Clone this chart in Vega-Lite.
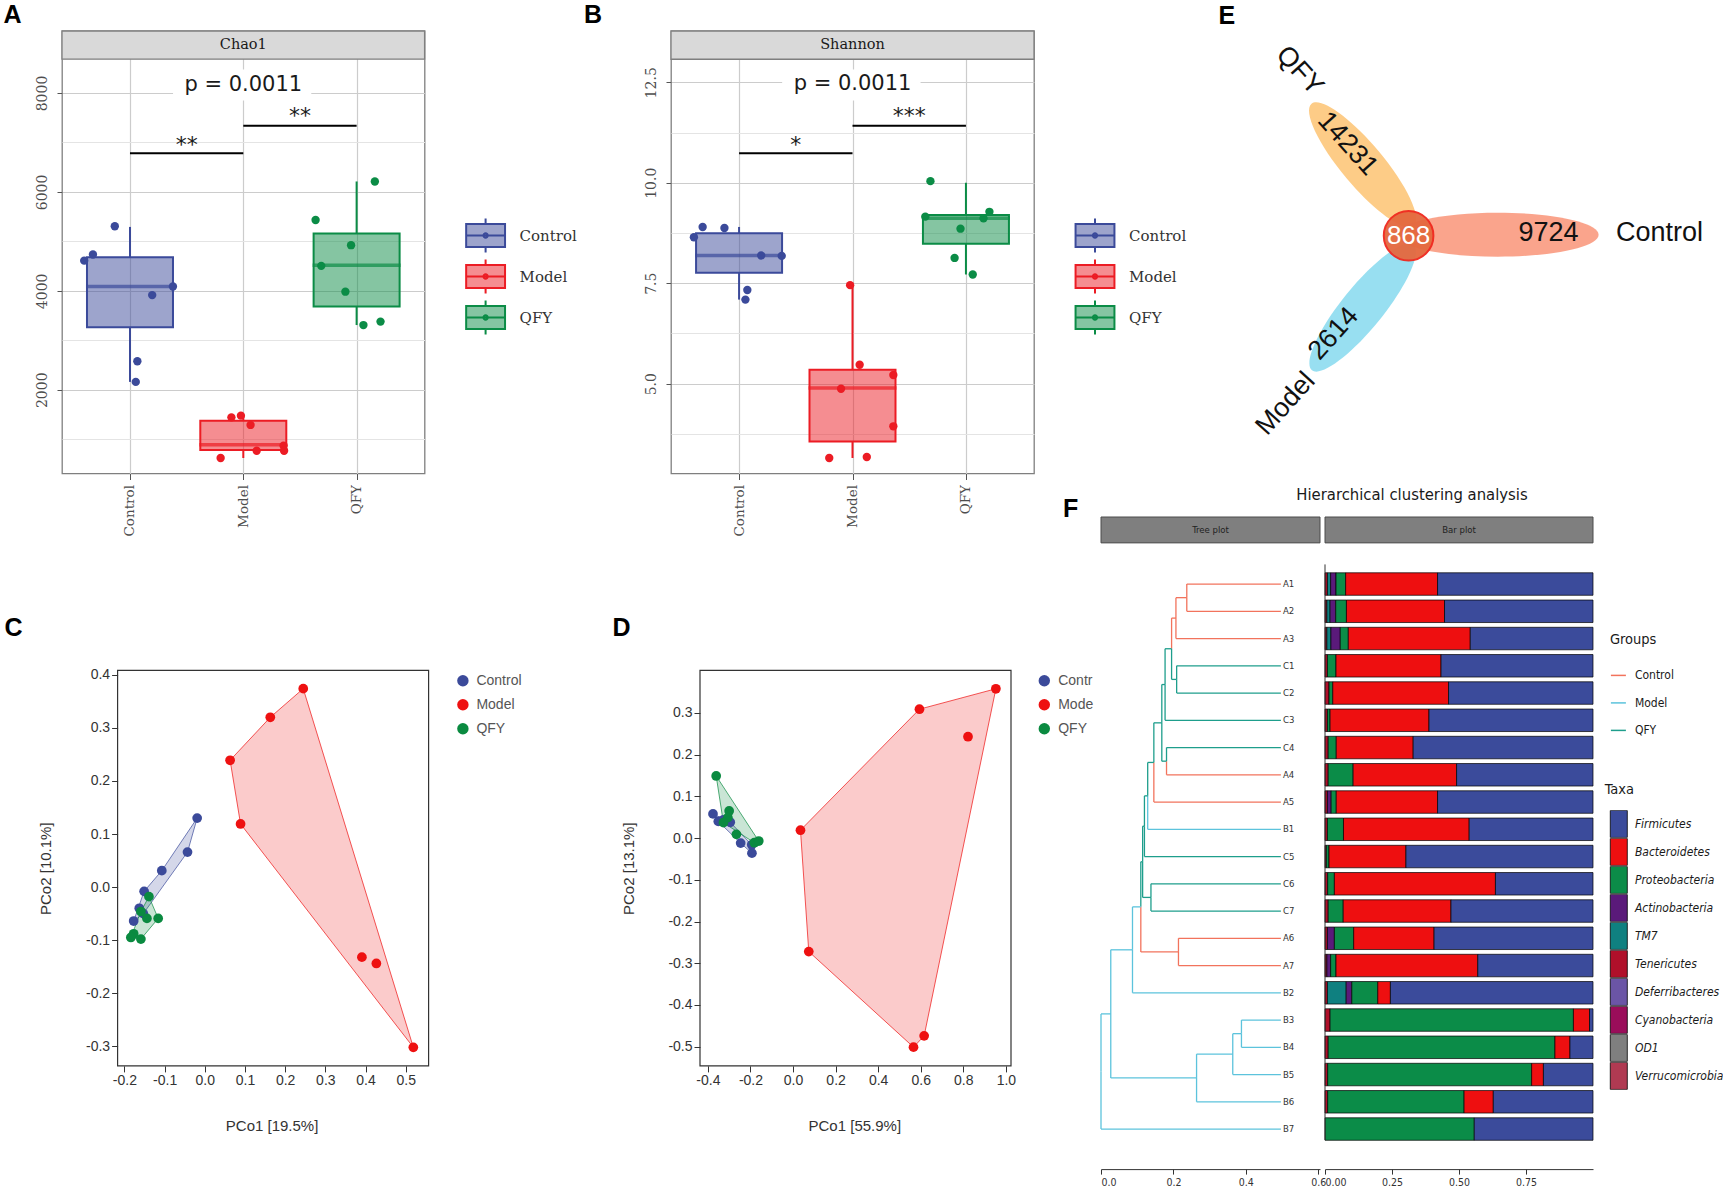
{
"$schema": "https://vega.github.io/schema/vega-lite/v6.json",
"background": "white",
"padding": {"left": 2, "top": 2, "right": 0, "bottom": 0},
"columns": 5, "align": "each", "bounds": "flush", "spacing": 0,
"resolve": {"scale": {"x": "independent", "y": "independent", "fill": "independent", "stroke": "independent", "color": "independent"}, "legend": {"fill": "independent", "stroke": "independent", "color": "independent"}},
"config": {"view": {"stroke": null}, "legend": {"padding": 0}},
"datasets": {
"boxA": [
 {"g":"Control","pos":1,"lo":2159,"q1":3266,"med":4088,"q3":4679,"hi":5292},
 {"g":"Model","pos":2,"lo":620,"q1":781,"med":886,"q3":1373,"hi":1477},
 {"g":"QFY","pos":3,"lo":3308,"q1":3684,"med":4519,"q3":5160,"hi":6211}],
"ptsA": [
 {"g":"Control","x":0.866,"y":5306},{"g":"Control","x":0.673,"y":4735},{"g":"Control","x":0.596,"y":4610},{"g":"Control","x":1.379,"y":4088},{"g":"Control","x":1.196,"y":3914},{"g":"Control","x":1.065,"y":2577},{"g":"Control","x":1.051,"y":2159},
 {"g":"Model","x":1.895,"y":1442},{"g":"Model","x":1.979,"y":1477},{"g":"Model","x":2.064,"y":1289},{"g":"Model","x":2.118,"y":767},{"g":"Model","x":2.355,"y":871},{"g":"Model","x":2.36,"y":767},{"g":"Model","x":1.8,"y":620},
 {"g":"QFY","x":3.161,"y":6211},{"g":"QFY","x":2.638,"y":5431},{"g":"QFY","x":2.951,"y":4923},{"g":"QFY","x":2.688,"y":4505},{"g":"QFY","x":2.901,"y":3983},{"g":"QFY","x":3.211,"y":3378},{"g":"QFY","x":3.06,"y":3308}],
"sigA": [{"x1":1,"x2":2,"y":6782,"lab":"**","xm":1.5,"ly":6802},{"x1":2,"x2":3,"y":7338,"lab":"**","xm":2.5,"ly":7397}],
"boxB": [
 {"g":"Control","pos":1,"lo":7.092,"q1":7.76,"med":8.189,"q3":8.746,"hi":8.9},
 {"g":"Model","pos":2,"lo":3.15,"q1":3.561,"med":4.889,"q3":5.344,"hi":7.452},
 {"g":"QFY","pos":3,"lo":7.717,"q1":8.48,"med":9.114,"q3":9.2,"hi":10.0}],
"ptsB": [
 {"g":"Control","x":0.602,"y":8.643},{"g":"Control","x":0.679,"y":8.9},{"g":"Control","x":0.871,"y":8.874},{"g":"Control","x":1.195,"y":8.189},{"g":"Control","x":1.376,"y":8.18},{"g":"Control","x":1.073,"y":7.332},{"g":"Control","x":1.056,"y":7.092},
 {"g":"Model","x":1.979,"y":7.452},{"g":"Model","x":2.063,"y":5.472},{"g":"Model","x":2.36,"y":5.215},{"g":"Model","x":1.899,"y":4.872},{"g":"Model","x":2.36,"y":3.938},{"g":"Model","x":1.795,"y":3.15},{"g":"Model","x":2.126,"y":3.175},
 {"g":"QFY","x":2.687,"y":10.04},{"g":"QFY","x":2.642,"y":9.157},{"g":"QFY","x":3.207,"y":9.277},{"g":"QFY","x":3.155,"y":9.114},{"g":"QFY","x":2.952,"y":8.857},{"g":"QFY","x":2.9,"y":8.129},{"g":"QFY","x":3.06,"y":7.717}],
"sigB": [{"x1":1,"x2":2,"y":10.735,"lab":"*","xm":1.5,"ly":10.76},{"x1":2,"x2":3,"y":11.42,"lab":"***","xm":2.5,"ly":11.49}],
"pcoaC": [
 {"g":"Control","x":-0.019,"y":0.130},{"g":"Control","x":-0.043,"y":0.066},{"g":"Control","x":-0.107,"y":0.031},{"g":"Control","x":-0.151,"y":-0.008},{"g":"Control","x":-0.163,"y":-0.040},{"g":"Control","x":-0.177,"y":-0.064},{"g":"Control","x":-0.153,"y":-0.05},
 {"g":"Model","x":0.245,"y":0.374},{"g":"Model","x":0.163,"y":0.320},{"g":"Model","x":0.063,"y":0.239},{"g":"Model","x":0.089,"y":0.119},{"g":"Model","x":0.391,"y":-0.132},{"g":"Model","x":0.427,"y":-0.144},{"g":"Model","x":0.519,"y":-0.302},
 {"g":"QFY","x":-0.139,"y":-0.018},{"g":"QFY","x":-0.159,"y":-0.046},{"g":"QFY","x":-0.144,"y":-0.059},{"g":"QFY","x":-0.116,"y":-0.059},{"g":"QFY","x":-0.177,"y":-0.088},{"g":"QFY","x":-0.184,"y":-0.095},{"g":"QFY","x":-0.159,"y":-0.098}],
"hullC": [
 {"g":"Control","i":0,"x":-0.019,"y":0.130},{"g":"Control","i":1,"x":-0.043,"y":0.066},{"g":"Control","i":2,"x":-0.153,"y":-0.05},{"g":"Control","i":3,"x":-0.177,"y":-0.064},{"g":"Control","i":4,"x":-0.151,"y":-0.008},{"g":"Control","i":5,"x":-0.107,"y":0.031},{"g":"Control","i":6,"x":-0.019,"y":0.130},
 {"g":"Model","i":0,"x":0.245,"y":0.374},{"g":"Model","i":1,"x":0.519,"y":-0.302},{"g":"Model","i":2,"x":0.089,"y":0.119},{"g":"Model","i":3,"x":0.063,"y":0.239},{"g":"Model","i":4,"x":0.163,"y":0.320},{"g":"Model","i":5,"x":0.245,"y":0.374},
 {"g":"QFY","i":0,"x":-0.139,"y":-0.018},{"g":"QFY","i":1,"x":-0.116,"y":-0.059},{"g":"QFY","i":2,"x":-0.159,"y":-0.098},{"g":"QFY","i":3,"x":-0.184,"y":-0.095},{"g":"QFY","i":4,"x":-0.159,"y":-0.046},{"g":"QFY","i":5,"x":-0.139,"y":-0.018}],
"pcoaD": [
 {"g":"Control","x":-0.376,"y":0.058},{"g":"Control","x":-0.351,"y":0.040},{"g":"Control","x":-0.295,"y":0.038},{"g":"Control","x":-0.246,"y":-0.012},{"g":"Control","x":-0.193,"y":-0.036},{"g":"Control","x":-0.194,"y":-0.016},{"g":"Control","x":-0.327,"y":0.044},
 {"g":"Model","x":0.953,"y":0.358},{"g":"Model","x":0.594,"y":0.309},{"g":"Model","x":0.822,"y":0.243},{"g":"Model","x":0.035,"y":0.019},{"g":"Model","x":0.074,"y":-0.272},{"g":"Model","x":0.616,"y":-0.474},{"g":"Model","x":0.566,"y":-0.501},
 {"g":"QFY","x":-0.361,"y":0.149},{"g":"QFY","x":-0.300,"y":0.065},{"g":"QFY","x":-0.306,"y":0.049},{"g":"QFY","x":-0.327,"y":0.037},{"g":"QFY","x":-0.266,"y":0.009},{"g":"QFY","x":-0.182,"y":-0.011},{"g":"QFY","x":-0.161,"y":-0.007}],
"hullD": [
 {"g":"Control","i":0,"x":-0.376,"y":0.058},{"g":"Control","i":1,"x":-0.295,"y":0.038},{"g":"Control","i":2,"x":-0.194,"y":-0.016},{"g":"Control","i":3,"x":-0.193,"y":-0.036},{"g":"Control","i":4,"x":-0.246,"y":-0.012},{"g":"Control","i":5,"x":-0.351,"y":0.040},{"g":"Control","i":6,"x":-0.376,"y":0.058},
 {"g":"Model","i":0,"x":0.953,"y":0.358},{"g":"Model","i":1,"x":0.616,"y":-0.474},{"g":"Model","i":2,"x":0.566,"y":-0.501},{"g":"Model","i":3,"x":0.074,"y":-0.272},{"g":"Model","i":4,"x":0.035,"y":0.019},{"g":"Model","i":5,"x":0.594,"y":0.309},{"g":"Model","i":6,"x":0.953,"y":0.358},
 {"g":"QFY","i":0,"x":-0.361,"y":0.149},{"g":"QFY","i":1,"x":-0.161,"y":-0.007},{"g":"QFY","i":2,"x":-0.182,"y":-0.011},{"g":"QFY","i":3,"x":-0.327,"y":0.037},{"g":"QFY","i":4,"x":-0.361,"y":0.149}],
"venn": [
 {"set":"QFY","n":"14231","ex":261.6,"ey":133.7,"nx":246.6,"ny":112.7,"lx":198.6,"ly":39.7},
 {"set":"Control","n":"9724","ex":396.6,"ey":203.7,"nx":447.6,"ny":201.7,"lx":558.6,"ly":201.7},
 {"set":"Model","n":"2614","ex":261.6,"ey":276.7,"nx":232.6,"ny":302.7,"lx":184.6,"ly":372.7},
 {"set":"All","n":"868","ex":307.6,"ey":204.7,"nx":307.6,"ny":204.7,"lx":307.6,"ly":204.7}],
"tree": [
 {"c":"n19","g":"Model","px":0,"py":18.887,"cx":0.027,"cy":16.774,"leaf":false},
 {"c":"B7","g":"Model","px":0,"py":18.887,"cx":0.497,"cy":21,"leaf":true},
 {"c":"n15","g":"Model","px":0.027,"py":16.774,"cx":0.087,"cy":14.423,"leaf":false},
 {"c":"n18","g":"Model","px":0.027,"py":16.774,"cx":0.264,"cy":19.125,"leaf":false},
 {"c":"n17","g":"Model","px":0.264,"py":19.125,"cx":0.364,"cy":18.25,"leaf":false},
 {"c":"B6","g":"Model","px":0.264,"py":19.125,"cx":0.497,"cy":20,"leaf":true},
 {"c":"n16","g":"Model","px":0.364,"py":18.25,"cx":0.388,"cy":17.5,"leaf":false},
 {"c":"B5","g":"Model","px":0.364,"py":18.25,"cx":0.497,"cy":19,"leaf":true},
 {"c":"B3","g":"Model","px":0.388,"py":17.5,"cx":0.497,"cy":17,"leaf":true},
 {"c":"B4","g":"Model","px":0.388,"py":17.5,"cx":0.497,"cy":18,"leaf":true},
 {"c":"n14","g":"Model","px":0.087,"py":14.423,"cx":0.110,"cy":12.847,"leaf":false},
 {"c":"B2","g":"Model","px":0.087,"py":14.423,"cx":0.497,"cy":16,"leaf":true},
 {"c":"n12","g":"QFY","px":0.110,"py":12.847,"cx":0.115,"cy":11.193,"leaf":false},
 {"c":"n13","g":"Control","px":0.110,"py":12.847,"cx":0.214,"cy":14.5,"leaf":false},
 {"c":"A6","g":"Control","px":0.214,"py":14.5,"cx":0.497,"cy":14,"leaf":true},
 {"c":"A7","g":"Control","px":0.214,"py":14.5,"cx":0.497,"cy":15,"leaf":true},
 {"c":"n10","g":"QFY","px":0.115,"py":11.193,"cx":0.120,"cy":9.887,"leaf":false},
 {"c":"n11","g":"QFY","px":0.115,"py":11.193,"cx":0.138,"cy":12.5,"leaf":false},
 {"c":"C6","g":"QFY","px":0.138,"py":12.5,"cx":0.497,"cy":12,"leaf":true},
 {"c":"C7","g":"QFY","px":0.138,"py":12.5,"cx":0.497,"cy":13,"leaf":true},
 {"c":"n9","g":"QFY","px":0.120,"py":9.887,"cx":0.129,"cy":8.773,"leaf":false},
 {"c":"C5","g":"QFY","px":0.120,"py":9.887,"cx":0.497,"cy":11,"leaf":true},
 {"c":"n8","g":"QFY","px":0.129,"py":8.773,"cx":0.146,"cy":7.547,"leaf":false},
 {"c":"B1","g":"Model","px":0.129,"py":8.773,"cx":0.497,"cy":10,"leaf":true},
 {"c":"n7","g":"QFY","px":0.146,"py":7.547,"cx":0.168,"cy":6.094,"leaf":false},
 {"c":"A5","g":"Control","px":0.146,"py":7.547,"cx":0.497,"cy":9,"leaf":true},
 {"c":"n5","g":"QFY","px":0.168,"py":6.094,"cx":0.177,"cy":4.688,"leaf":false},
 {"c":"n6","g":"QFY","px":0.168,"py":6.094,"cx":0.181,"cy":7.5,"leaf":false},
 {"c":"C4","g":"QFY","px":0.181,"py":7.5,"cx":0.497,"cy":7,"leaf":true},
 {"c":"A4","g":"Control","px":0.181,"py":7.5,"cx":0.497,"cy":8,"leaf":true},
 {"c":"n4","g":"QFY","px":0.177,"py":4.688,"cx":0.195,"cy":3.375,"leaf":false},
 {"c":"C3","g":"QFY","px":0.177,"py":4.688,"cx":0.497,"cy":6,"leaf":true},
 {"c":"n2","g":"Control","px":0.195,"py":3.375,"cx":0.207,"cy":2.25,"leaf":false},
 {"c":"n3","g":"QFY","px":0.195,"py":3.375,"cx":0.209,"cy":4.5,"leaf":false},
 {"c":"C1","g":"QFY","px":0.209,"py":4.5,"cx":0.497,"cy":4,"leaf":true},
 {"c":"C2","g":"QFY","px":0.209,"py":4.5,"cx":0.497,"cy":5,"leaf":true},
 {"c":"n1","g":"Control","px":0.207,"py":2.25,"cx":0.237,"cy":1.5,"leaf":false},
 {"c":"A3","g":"Control","px":0.207,"py":2.25,"cx":0.497,"cy":3,"leaf":true},
 {"c":"A1","g":"Control","px":0.237,"py":1.5,"cx":0.497,"cy":1,"leaf":true},
 {"c":"A2","g":"Control","px":0.237,"py":1.5,"cx":0.497,"cy":2,"leaf":true}],
"bars": [
 {"s":"A1","r":1,"t":"Tenericutes","k":5,"v":0.009},{"s":"A1","r":1,"t":"TM7","k":4,"v":0.012},{"s":"A1","r":1,"t":"Actinobacteria","k":3,"v":0.02},{"s":"A1","r":1,"t":"Proteobacteria","k":2,"v":0.036},{"s":"A1","r":1,"t":"Bacteroidetes","k":1,"v":0.343},{"s":"A1","r":1,"t":"Firmicutes","k":0,"v":0.58},
 {"s":"A2","r":2,"t":"Tenericutes","k":5,"v":0.007},{"s":"A2","r":2,"t":"TM7","k":4,"v":0.012},{"s":"A2","r":2,"t":"Actinobacteria","k":3,"v":0.021},{"s":"A2","r":2,"t":"Proteobacteria","k":2,"v":0.04},{"s":"A2","r":2,"t":"Bacteroidetes","k":1,"v":0.366},{"s":"A2","r":2,"t":"Firmicutes","k":0,"v":0.554},
 {"s":"A3","r":3,"t":"Tenericutes","k":5,"v":0.007},{"s":"A3","r":3,"t":"TM7","k":4,"v":0.015},{"s":"A3","r":3,"t":"Actinobacteria","k":3,"v":0.035},{"s":"A3","r":3,"t":"Proteobacteria","k":2,"v":0.03},{"s":"A3","r":3,"t":"Bacteroidetes","k":1,"v":0.455},{"s":"A3","r":3,"t":"Firmicutes","k":0,"v":0.458},
 {"s":"C1","r":4,"t":"Tenericutes","k":5,"v":0.009},{"s":"C1","r":4,"t":"Proteobacteria","k":2,"v":0.032},{"s":"C1","r":4,"t":"Bacteroidetes","k":1,"v":0.392},{"s":"C1","r":4,"t":"Firmicutes","k":0,"v":0.567},
 {"s":"C2","r":5,"t":"Tenericutes","k":5,"v":0.015},{"s":"C2","r":5,"t":"Proteobacteria","k":2,"v":0.014},{"s":"C2","r":5,"t":"Bacteroidetes","k":1,"v":0.432},{"s":"C2","r":5,"t":"Firmicutes","k":0,"v":0.539},
 {"s":"C3","r":6,"t":"Tenericutes","k":5,"v":0.009},{"s":"C3","r":6,"t":"Proteobacteria","k":2,"v":0.01},{"s":"C3","r":6,"t":"Bacteroidetes","k":1,"v":0.369},{"s":"C3","r":6,"t":"Firmicutes","k":0,"v":0.612},
 {"s":"C4","r":7,"t":"Tenericutes","k":5,"v":0.012},{"s":"C4","r":7,"t":"Proteobacteria","k":2,"v":0.03},{"s":"C4","r":7,"t":"Bacteroidetes","k":1,"v":0.287},{"s":"C4","r":7,"t":"Firmicutes","k":0,"v":0.671},
 {"s":"A4","r":8,"t":"Tenericutes","k":5,"v":0.012},{"s":"A4","r":8,"t":"Proteobacteria","k":2,"v":0.093},{"s":"A4","r":8,"t":"Bacteroidetes","k":1,"v":0.386},{"s":"A4","r":8,"t":"Firmicutes","k":0,"v":0.509},
 {"s":"A5","r":9,"t":"Tenericutes","k":5,"v":0.009},{"s":"A5","r":9,"t":"Actinobacteria","k":3,"v":0.014},{"s":"A5","r":9,"t":"Proteobacteria","k":2,"v":0.019},{"s":"A5","r":9,"t":"Bacteroidetes","k":1,"v":0.378},{"s":"A5","r":9,"t":"Firmicutes","k":0,"v":0.58},
 {"s":"B1","r":10,"t":"Tenericutes","k":5,"v":0.009},{"s":"B1","r":10,"t":"Proteobacteria","k":2,"v":0.06},{"s":"B1","r":10,"t":"Bacteroidetes","k":1,"v":0.469},{"s":"B1","r":10,"t":"Firmicutes","k":0,"v":0.462},
 {"s":"C5","r":11,"t":"Tenericutes","k":5,"v":0.005},{"s":"C5","r":11,"t":"Proteobacteria","k":2,"v":0.01},{"s":"C5","r":11,"t":"Bacteroidetes","k":1,"v":0.287},{"s":"C5","r":11,"t":"Firmicutes","k":0,"v":0.698},
 {"s":"C6","r":12,"t":"Tenericutes","k":5,"v":0.01},{"s":"C6","r":12,"t":"Proteobacteria","k":2,"v":0.025},{"s":"C6","r":12,"t":"Bacteroidetes","k":1,"v":0.601},{"s":"C6","r":12,"t":"Firmicutes","k":0,"v":0.364},
 {"s":"C7","r":13,"t":"Tenericutes","k":5,"v":0.012},{"s":"C7","r":13,"t":"Proteobacteria","k":2,"v":0.056},{"s":"C7","r":13,"t":"Bacteroidetes","k":1,"v":0.402},{"s":"C7","r":13,"t":"Firmicutes","k":0,"v":0.53},
 {"s":"A6","r":14,"t":"Tenericutes","k":5,"v":0.009},{"s":"A6","r":14,"t":"Actinobacteria","k":3,"v":0.026},{"s":"A6","r":14,"t":"Proteobacteria","k":2,"v":0.072},{"s":"A6","r":14,"t":"Bacteroidetes","k":1,"v":0.3},{"s":"A6","r":14,"t":"Firmicutes","k":0,"v":0.593},
 {"s":"A7","r":15,"t":"Tenericutes","k":5,"v":0.007},{"s":"A7","r":15,"t":"Actinobacteria","k":3,"v":0.014},{"s":"A7","r":15,"t":"Proteobacteria","k":2,"v":0.02},{"s":"A7","r":15,"t":"Bacteroidetes","k":1,"v":0.529},{"s":"A7","r":15,"t":"Firmicutes","k":0,"v":0.43},
 {"s":"B2","r":16,"t":"Tenericutes","k":5,"v":0.009},{"s":"B2","r":16,"t":"TM7","k":4,"v":0.07},{"s":"B2","r":16,"t":"Actinobacteria","k":3,"v":0.021},{"s":"B2","r":16,"t":"Proteobacteria","k":2,"v":0.097},{"s":"B2","r":16,"t":"Bacteroidetes","k":1,"v":0.047},{"s":"B2","r":16,"t":"Firmicutes","k":0,"v":0.756},
 {"s":"B3","r":17,"t":"Tenericutes","k":5,"v":0.019},{"s":"B3","r":17,"t":"Proteobacteria","k":2,"v":0.908},{"s":"B3","r":17,"t":"Bacteroidetes","k":1,"v":0.06},{"s":"B3","r":17,"t":"Firmicutes","k":0,"v":0.013},
 {"s":"B4","r":18,"t":"Tenericutes","k":5,"v":0.012},{"s":"B4","r":18,"t":"Proteobacteria","k":2,"v":0.846},{"s":"B4","r":18,"t":"Bacteroidetes","k":1,"v":0.056},{"s":"B4","r":18,"t":"Firmicutes","k":0,"v":0.086},
 {"s":"B5","r":19,"t":"Tenericutes","k":5,"v":0.01},{"s":"B5","r":19,"t":"Proteobacteria","k":2,"v":0.761},{"s":"B5","r":19,"t":"Bacteroidetes","k":1,"v":0.044},{"s":"B5","r":19,"t":"Firmicutes","k":0,"v":0.185},
 {"s":"B6","r":20,"t":"Tenericutes","k":5,"v":0.01},{"s":"B6","r":20,"t":"Proteobacteria","k":2,"v":0.509},{"s":"B6","r":20,"t":"Bacteroidetes","k":1,"v":0.109},{"s":"B6","r":20,"t":"Firmicutes","k":0,"v":0.372},
 {"s":"B7","r":21,"t":"Proteobacteria","k":2,"v":0.557},{"s":"B7","r":21,"t":"Firmicutes","k":0,"v":0.443}]
},
"concat": [
{
 "width": 362.6, "height": 442.5,
 "view": {"stroke": "#7f7f7f", "strokeWidth": 1.3},
 "title": {"text": "A", "anchor": "start", "frame": "group", "dx": -58.4, "dy": 24, "offset": 6, "baseline": "alphabetic", "font": "Liberation Sans", "fontSize": 25, "fontWeight": "bold", "color": "#000"},
 "layer": [
  {"data": {"values": [{"x1": 0.4, "x2": 3.6, "y1": 8683, "y2": 9253}]},
   "mark": {"type": "rect", "fill": "#d9d9d9", "stroke": "#7f7f7f", "strokeWidth": 1.3},
   "encoding": {
    "x": {"field": "x1", "type": "quantitative", "scale": {"domain": [0.4, 3.6], "nice": false, "zero": false, "padding": 0},
      "axis": {"values": [1,2,3], "labelExpr": "['', 'Control', 'Model', 'QFY'][datum.value]", "labelAngle": 270, "labelFont": "DejaVu Serif", "labelFontSize": 13.5, "labelColor": "#4d4d4d", "labelPadding": 5, "tickSize": 6, "tickColor": "#555", "domain": false, "grid": true, "gridColor": "#cccccc", "gridWidth": 1.2, "title": null}},
    "x2": {"field": "x2"},
    "y": {"field": "y1", "type": "quantitative", "scale": {"domain": [307, 9253], "nice": false, "zero": false, "padding": 0},
      "axis": {"values": [1000,2000,3000,4000,5000,6000,7000,8000], "format": "d", "labelExpr": "datum.value % 2000 === 0 ? datum.label : ''", "labelAngle": 270, "labelFont": "DejaVu Serif", "labelFontSize": 14, "labelColor": "#4d4d4d", "labelPadding": 8, "tickSize": 5, "tickColor": {"condition": {"test": "datum.value % 2000 !== 0", "value": "transparent"}, "value": "#555"}, "domain": false, "grid": true, "gridColor": {"condition": {"test": "datum.value % 2000 !== 0", "value": "#e4e4e4"}, "value": "#cccccc"}, "gridWidth": 1.2, "title": null}},
    "y2": {"field": "y2"}}},
  {"data": {"values": [{"label": "Chao1", "x": 2, "y": 8968}]},
   "mark": {"type": "text", "font": "DejaVu Serif", "fontSize": 14.5, "color": "#1a1a1a", "baseline": "middle"},
   "encoding": {"x": {"field": "x", "type": "quantitative"}, "y": {"field": "y", "type": "quantitative"}, "text": {"field": "label"}}},
  {"data": {"values": [{"x1": 1.38, "x2": 2.6, "y1": 7846, "y2": 8473}]},
   "mark": {"type": "rect", "fill": "white"},
   "encoding": {"x": {"field": "x1", "type": "quantitative"}, "x2": {"field": "x2"}, "y": {"field": "y1", "type": "quantitative"}, "y2": {"field": "y2"}}},
  {"data": {"values": [{"label": "p = 0.0011", "x": 2, "y": 8160}]},
   "mark": {"type": "text", "font": "DejaVu Sans", "fontSize": 21, "color": "#1a1a1a", "baseline": "middle"},
   "encoding": {"x": {"field": "x", "type": "quantitative"}, "y": {"field": "y", "type": "quantitative"}, "text": {"field": "label"}}},
  {"data": {"name": "sigA"}, "mark": {"type": "rule", "color": "#000", "strokeWidth": 2},
   "encoding": {"x": {"field": "x1", "type": "quantitative"}, "x2": {"field": "x2"}, "y": {"field": "y", "type": "quantitative"}}},
  {"data": {"name": "sigA"}, "mark": {"type": "text", "font": "DejaVu Sans", "fontSize": 22, "color": "#1a1a1a", "baseline": "alphabetic"},
   "encoding": {"x": {"field": "xm", "type": "quantitative"}, "y": {"field": "ly", "type": "quantitative"}, "text": {"field": "lab"}}},
  {"data": {"name": "boxA"}, "mark": {"type": "rule", "strokeWidth": 2},
   "encoding": {"x": {"field": "pos", "type": "quantitative"}, "y": {"field": "lo", "type": "quantitative"}, "y2": {"field": "q1"},
    "stroke": {"field": "g", "type": "nominal", "scale": {"domain": ["Control","Model","QFY"], "range": ["#3b4a9a","#ec1c24","#0b8c46"]}}}},
  {"data": {"name": "boxA"}, "mark": {"type": "rule", "strokeWidth": 2},
   "encoding": {"x": {"field": "pos", "type": "quantitative"}, "y": {"field": "q3", "type": "quantitative"}, "y2": {"field": "hi"},
    "stroke": {"field": "g", "type": "nominal"}}},
  {"data": {"name": "boxA"}, "mark": {"type": "bar", "orient": "vertical", "size": 86, "fillOpacity": 0.5, "strokeWidth": 2},
   "encoding": {"x": {"field": "pos", "type": "quantitative"}, "y": {"field": "q1", "type": "quantitative"}, "y2": {"field": "q3"},
    "fill": {"field": "g", "type": "nominal", "scale": {"domain": ["Control","Model","QFY"], "range": ["#3b4a9a","#ec1c24","#0b8c46"]},
      "legend": {"orient": "none", "legendX": 404.6, "legendY": 185.5, "title": null, "symbolType": "M -1.08 -0.64 H 1.08 V 0.64 H -1.08 Z M 0 -0.64 V -0.94 M 0 0.64 V 0.94 M -1.08 0 H 1.08 M 0.12 0 A 0.12 0.12 0 1 1 -0.12 0 A 0.12 0.12 0 1 1 0.12 0 Z", "symbolSize": 1296, "symbolStrokeWidth": 2, "labelFont": "DejaVu Serif", "labelFontSize": 15, "labelColor": "#333", "labelOffset": 15, "rowPadding": -1, "padding": 0, "encode": {"symbols": {"update": {"fillOpacity": {"value": 0.5}}}}}},
    "stroke": {"field": "g", "type": "nominal",
      "legend": {"orient": "none", "legendX": 404.6, "legendY": 185.5, "title": null, "symbolType": "M -1.08 -0.64 H 1.08 V 0.64 H -1.08 Z M 0 -0.64 V -0.94 M 0 0.64 V 0.94 M -1.08 0 H 1.08 M 0.12 0 A 0.12 0.12 0 1 1 -0.12 0 A 0.12 0.12 0 1 1 0.12 0 Z", "symbolSize": 1296, "symbolStrokeWidth": 2, "labelFont": "DejaVu Serif", "labelFontSize": 15, "labelColor": "#333", "labelOffset": 15, "rowPadding": -1, "padding": 0, "encode": {"symbols": {"update": {"fillOpacity": {"value": 0.5}}}}}}}},
  {"data": {"name": "boxA"}, "mark": {"type": "tick", "orient": "horizontal", "size": 88, "thickness": 3.5},
   "encoding": {"x": {"field": "pos", "type": "quantitative"}, "y": {"field": "med", "type": "quantitative"},
    "fill": {"field": "g", "type": "nominal"}}},
  {"data": {"name": "ptsA"}, "mark": {"type": "circle", "size": 70, "opacity": 1},
   "encoding": {"x": {"field": "x", "type": "quantitative"}, "y": {"field": "y", "type": "quantitative"},
    "fill": {"field": "g", "type": "nominal"}}}
 ]
},
{"width": 242, "height": 486, "data": {"values": [{"a": 0}]}, "mark": {"type": "point", "opacity": 0}, "encoding": {}},
{
 "width": 363, "height": 442.5,
 "view": {"stroke": "#7f7f7f", "strokeWidth": 1.3},
 "title": {"text": "B", "anchor": "start", "frame": "group", "dx": -87, "dy": 24, "offset": 6, "baseline": "alphabetic", "font": "Liberation Sans", "fontSize": 25, "fontWeight": "bold", "color": "#000"},
 "layer": [
  {"data": {"values": [{"x1": 0.4, "x2": 3.6, "y1": 13.074, "y2": 13.777}]},
   "mark": {"type": "rect", "fill": "#d9d9d9", "stroke": "#7f7f7f", "strokeWidth": 1.3},
   "encoding": {
    "x": {"field": "x1", "type": "quantitative", "scale": {"domain": [0.4, 3.6], "nice": false, "zero": false, "padding": 0},
      "axis": {"values": [1,2,3], "labelExpr": "['', 'Control', 'Model', 'QFY'][datum.value]", "labelAngle": 270, "labelFont": "DejaVu Serif", "labelFontSize": 13.5, "labelColor": "#4d4d4d", "labelPadding": 5, "tickSize": 6, "tickColor": "#555", "domain": false, "grid": true, "gridColor": "#cccccc", "gridWidth": 1.2, "title": null}},
    "x2": {"field": "x2"},
    "y": {"field": "y1", "type": "quantitative", "scale": {"domain": [2.764, 13.777], "nice": false, "zero": false, "padding": 0},
      "axis": {"values": [3.75,5,6.25,7.5,8.75,10,11.25,12.5], "labelExpr": "datum.value % 2.5 === 0 ? format(datum.value, '.1f') : ''", "labelAngle": 270, "labelFont": "DejaVu Serif", "labelFontSize": 14, "labelColor": "#4d4d4d", "labelPadding": 8, "tickSize": 5, "tickColor": {"condition": {"test": "datum.value % 2.5 !== 0", "value": "transparent"}, "value": "#555"}, "domain": false, "grid": true, "gridColor": {"condition": {"test": "datum.value % 2.5 !== 0", "value": "#e4e4e4"}, "value": "#cccccc"}, "gridWidth": 1.2, "title": null}},
    "y2": {"field": "y2"}}},
  {"data": {"values": [{"label": "Shannon", "x": 2, "y": 13.4255}]},
   "mark": {"type": "text", "font": "DejaVu Serif", "fontSize": 14.5, "color": "#1a1a1a", "baseline": "middle"},
   "encoding": {"x": {"field": "x", "type": "quantitative"}, "y": {"field": "y", "type": "quantitative"}, "text": {"field": "label"}}},
  {"data": {"values": [{"x1": 1.38, "x2": 2.6, "y1": 12.05, "y2": 12.82}]},
   "mark": {"type": "rect", "fill": "white"},
   "encoding": {"x": {"field": "x1", "type": "quantitative"}, "x2": {"field": "x2"}, "y": {"field": "y1", "type": "quantitative"}, "y2": {"field": "y2"}}},
  {"data": {"values": [{"label": "p = 0.0011", "x": 2, "y": 12.45}]},
   "mark": {"type": "text", "font": "DejaVu Sans", "fontSize": 21, "color": "#1a1a1a", "baseline": "middle"},
   "encoding": {"x": {"field": "x", "type": "quantitative"}, "y": {"field": "y", "type": "quantitative"}, "text": {"field": "label"}}},
  {"data": {"name": "sigB"}, "mark": {"type": "rule", "color": "#000", "strokeWidth": 2},
   "encoding": {"x": {"field": "x1", "type": "quantitative"}, "x2": {"field": "x2"}, "y": {"field": "y", "type": "quantitative"}}},
  {"data": {"name": "sigB"}, "mark": {"type": "text", "font": "DejaVu Sans", "fontSize": 22, "color": "#1a1a1a", "baseline": "alphabetic"},
   "encoding": {"x": {"field": "xm", "type": "quantitative"}, "y": {"field": "ly", "type": "quantitative"}, "text": {"field": "lab"}}},
  {"data": {"name": "boxB"}, "mark": {"type": "rule", "strokeWidth": 2},
   "encoding": {"x": {"field": "pos", "type": "quantitative"}, "y": {"field": "lo", "type": "quantitative"}, "y2": {"field": "q1"},
    "stroke": {"field": "g", "type": "nominal", "scale": {"domain": ["Control","Model","QFY"], "range": ["#3b4a9a","#ec1c24","#0b8c46"]}}}},
  {"data": {"name": "boxB"}, "mark": {"type": "rule", "strokeWidth": 2},
   "encoding": {"x": {"field": "pos", "type": "quantitative"}, "y": {"field": "q3", "type": "quantitative"}, "y2": {"field": "hi"},
    "stroke": {"field": "g", "type": "nominal"}}},
  {"data": {"name": "boxB"}, "mark": {"type": "bar", "orient": "vertical", "size": 86, "fillOpacity": 0.5, "strokeWidth": 2},
   "encoding": {"x": {"field": "pos", "type": "quantitative"}, "y": {"field": "q1", "type": "quantitative"}, "y2": {"field": "q3"},
    "fill": {"field": "g", "type": "nominal", "scale": {"domain": ["Control","Model","QFY"], "range": ["#3b4a9a","#ec1c24","#0b8c46"]},
      "legend": {"orient": "none", "legendX": 405, "legendY": 185.5, "title": null, "symbolType": "M -1.08 -0.64 H 1.08 V 0.64 H -1.08 Z M 0 -0.64 V -0.94 M 0 0.64 V 0.94 M -1.08 0 H 1.08 M 0.12 0 A 0.12 0.12 0 1 1 -0.12 0 A 0.12 0.12 0 1 1 0.12 0 Z", "symbolSize": 1296, "symbolStrokeWidth": 2, "labelFont": "DejaVu Serif", "labelFontSize": 15, "labelColor": "#333", "labelOffset": 15, "rowPadding": -1, "padding": 0, "encode": {"symbols": {"update": {"fillOpacity": {"value": 0.5}}}}}},
    "stroke": {"field": "g", "type": "nominal",
      "legend": {"orient": "none", "legendX": 405, "legendY": 185.5, "title": null, "symbolType": "M -1.08 -0.64 H 1.08 V 0.64 H -1.08 Z M 0 -0.64 V -0.94 M 0 0.64 V 0.94 M -1.08 0 H 1.08 M 0.12 0 A 0.12 0.12 0 1 1 -0.12 0 A 0.12 0.12 0 1 1 0.12 0 Z", "symbolSize": 1296, "symbolStrokeWidth": 2, "labelFont": "DejaVu Serif", "labelFontSize": 15, "labelColor": "#333", "labelOffset": 15, "rowPadding": -1, "padding": 0, "encode": {"symbols": {"update": {"fillOpacity": {"value": 0.5}}}}}}}},
  {"data": {"name": "boxB"}, "mark": {"type": "tick", "orient": "horizontal", "size": 88, "thickness": 3.5},
   "encoding": {"x": {"field": "pos", "type": "quantitative"}, "y": {"field": "med", "type": "quantitative"},
    "fill": {"field": "g", "type": "nominal"}}},
  {"data": {"name": "ptsB"}, "mark": {"type": "circle", "size": 70, "opacity": 1},
   "encoding": {"x": {"field": "x", "type": "quantitative"}, "y": {"field": "y", "type": "quantitative"},
    "fill": {"field": "g", "type": "nominal"}}}
 ]
},
{"width": 67, "height": 486, "data": {"values": [{"a": 0}]}, "mark": {"type": "point", "opacity": 0}, "encoding": {}},
{
 "width": 620, "height": 486,
 "title": {"text": "E", "anchor": "start", "frame": "group", "dx": 117.6, "dy": 24, "offset": 6, "baseline": "alphabetic", "font": "Liberation Sans", "fontSize": 25, "fontWeight": "bold", "color": "#000"},
 "data": {"name": "venn"},
 "encoding": {
  "x": {"field": "ex", "type": "quantitative", "scale": {"domain": [0, 620], "nice": false, "zero": false}, "axis": null},
  "y": {"field": "ey", "type": "quantitative", "scale": {"domain": [0, 486], "nice": false, "zero": false, "reverse": true}, "axis": null}},
 "layer": [
  {"transform": [{"filter": "datum.set === 'QFY'"}],
   "mark": {"type": "point", "filled": true, "shape": "M -1 0 C -1 -0.1457 -0.552 -0.264 0 -0.264 C 0.552 -0.264 1 -0.1457 1 0 C 1 0.1457 0.552 0.264 0 0.264 C -0.552 0.264 -1 0.1457 -1 0 Z", "size": 25281, "angle": 50, "fill": "#fdc77a", "opacity": 0.9, "strokeWidth": 0}},
  {"transform": [{"filter": "datum.set === 'Model'"}],
   "mark": {"type": "point", "filled": true, "shape": "M -1 0 C -1 -0.1435 -0.552 -0.26 0 -0.26 C 0.552 -0.26 1 -0.1435 1 0 C 1 0.1435 0.552 0.26 0 0.26 C -0.552 0.26 -1 0.1435 -1 0 Z", "size": 25921, "angle": -51, "fill": "#8ddcf0", "opacity": 0.9, "strokeWidth": 0}},
  {"transform": [{"filter": "datum.set === 'Control'"}],
   "mark": {"type": "point", "filled": true, "shape": "M -1 0 C -1 -0.1203 -0.552 -0.218 0 -0.218 C 0.552 -0.218 1 -0.1203 1 0 C 1 0.1203 0.552 0.218 0 0.218 C -0.552 0.218 -1 0.1203 -1 0 Z", "size": 40804, "angle": 0, "fill": "#fa9a7f", "opacity": 0.9, "strokeWidth": 0}},
  {"transform": [{"filter": "datum.set === 'All'"}],
   "mark": {"type": "point", "filled": true, "shape": "circle", "size": 2463, "fill": "#e4683e", "stroke": "#f0281e", "strokeWidth": 2, "opacity": 0.95}},
  {"transform": [{"filter": "datum.set === 'QFY'"}],
   "mark": {"type": "text", "angle": 48, "font": "Liberation Sans", "fontSize": 27, "color": "#111", "baseline": "middle", "align": "center"},
   "encoding": {"x": {"field": "nx", "type": "quantitative"}, "y": {"field": "ny", "type": "quantitative"}, "text": {"field": "n", "type": "nominal"}}},
  {"transform": [{"filter": "datum.set === 'Model'"}],
   "mark": {"type": "text", "angle": -48, "font": "Liberation Sans", "fontSize": 27, "color": "#111", "baseline": "middle", "align": "center"},
   "encoding": {"x": {"field": "nx", "type": "quantitative"}, "y": {"field": "ny", "type": "quantitative"}, "text": {"field": "n", "type": "nominal"}}},
  {"transform": [{"filter": "datum.set === 'Control'"}],
   "mark": {"type": "text", "font": "Liberation Sans", "fontSize": 27, "color": "#111", "baseline": "middle", "align": "center"},
   "encoding": {"x": {"field": "nx", "type": "quantitative"}, "y": {"field": "ny", "type": "quantitative"}, "text": {"field": "n", "type": "nominal"}}},
  {"transform": [{"filter": "datum.set === 'All'"}],
   "mark": {"type": "text", "font": "Liberation Sans", "fontSize": 26, "color": "white", "baseline": "middle", "align": "center"},
   "encoding": {"x": {"field": "nx", "type": "quantitative"}, "y": {"field": "ny", "type": "quantitative"}, "text": {"field": "n", "type": "nominal"}}},
  {"transform": [{"filter": "datum.set === 'QFY'"}],
   "mark": {"type": "text", "angle": 48, "font": "Liberation Sans", "fontSize": 27, "color": "#111", "baseline": "middle", "align": "center"},
   "encoding": {"x": {"field": "lx", "type": "quantitative"}, "y": {"field": "ly", "type": "quantitative"}, "text": {"field": "set", "type": "nominal"}}},
  {"transform": [{"filter": "datum.set === 'Model'"}],
   "mark": {"type": "text", "angle": -48, "font": "Liberation Sans", "fontSize": 27, "color": "#111", "baseline": "middle", "align": "center"},
   "encoding": {"x": {"field": "lx", "type": "quantitative"}, "y": {"field": "ly", "type": "quantitative"}, "text": {"field": "set", "type": "nominal"}}},
  {"transform": [{"filter": "datum.set === 'Control'"}],
   "mark": {"type": "text", "font": "Liberation Sans", "fontSize": 27, "color": "#111", "baseline": "middle", "align": "center"},
   "encoding": {"x": {"field": "lx", "type": "quantitative"}, "y": {"field": "ly", "type": "quantitative"}, "text": {"field": "set", "type": "nominal"}}}
 ]
},
{
 "width": 366.6, "height": 548.9,
 "layer": [
  {"data": {"values": [{"x1": -0.217, "x2": 0.557, "y1": -0.337, "y2": 0.4084}]},
   "mark": {"type": "rect", "fill": "transparent", "stroke": "#333", "strokeWidth": 1.2},
   "encoding": {
    "x": {"field": "x1", "type": "quantitative", "scale": {"domain": [-0.35537, 0.557], "nice": false, "zero": false, "padding": 0},
      "axis": {"values": [-0.2,-0.1,0,0.1,0.2,0.3,0.4,0.5], "format": ".1f", "labelExpr": "replace(datum.label, '−', '-')", "grid": false, "domain": false, "tickSize": 6, "tickColor": "#333", "labelFont": "Liberation Sans", "labelFontSize": 14, "labelColor": "#333", "labelPadding": 2, "title": "PCo1 [19.5%]", "titleFont": "Liberation Sans", "titleFontSize": 15, "titleFontWeight": "normal", "titleColor": "#333", "titleX": 209.6, "titleY": 53}},
    "x2": {"field": "x2"},
    "y": {"field": "y1", "type": "quantitative", "scale": {"domain": [-0.337, 0.69751], "nice": false, "zero": false, "padding": 0},
      "axis": {"offset": -55.6, "values": [-0.3,-0.2,-0.1,0,0.1,0.2,0.3,0.4], "format": ".1f", "labelExpr": "replace(datum.label, '−', '-')", "grid": false, "domain": false, "tickSize": 6, "tickColor": "#333", "labelFont": "Liberation Sans", "labelFontSize": 14, "labelColor": "#333", "labelPadding": 2, "title": "PCo2 [10.1%]", "titleFont": "Liberation Sans", "titleFontSize": 15, "titleFontWeight": "normal", "titleColor": "#333", "titleX": -63.9, "titleY": 351.2}},
    "y2": {"field": "y2"}}},
  {"data": {"name": "hullC"}, "mark": {"type": "line", "strokeWidth": 1, "fillOpacity": 0.22, "strokeOpacity": 0.7},
   "encoding": {"x": {"field": "x", "type": "quantitative"}, "y": {"field": "y", "type": "quantitative"},
    "order": {"field": "i", "type": "quantitative"},
    "fill": {"field": "g", "type": "nominal", "scale": {"domain": ["Control","Model","QFY"], "range": ["#3b4a9a","#ee1111","#0a8a40"]}},
    "stroke": {"field": "g", "type": "nominal", "scale": {"domain": ["Control","Model","QFY"], "range": ["#3b4a9a","#ee1111","#0a8a40"]},
      "legend": {"orient": "none", "legendX": 393.9, "legendY": 156.7, "title": null, "symbolType": "circle", "symbolSize": 130, "symbolStrokeWidth": 0, "labelFont": "Liberation Sans", "labelFontSize": 14, "labelColor": "#555", "labelOffset": 6.5, "rowPadding": 10}}}},
  {"data": {"name": "pcoaC"}, "mark": {"type": "circle", "size": 95, "opacity": 1},
   "encoding": {"x": {"field": "x", "type": "quantitative"}, "y": {"field": "y", "type": "quantitative"},
    "fill": {"field": "g", "type": "nominal", "legend": {"orient": "none", "legendX": 393.9, "legendY": 156.7, "title": null, "symbolType": "circle", "symbolSize": 130, "symbolStrokeWidth": 0, "symbolOpacity": 1, "labelFont": "Liberation Sans", "labelFontSize": 14, "labelColor": "#555", "labelOffset": 6.5, "rowPadding": 10, "encode": {"symbols": {"update": {"fillOpacity": {"value": 1}, "strokeWidth": {"value": 0}}}}}}}},
  {"data": {"values": [{}]}, "mark": {"type": "text", "align": "left", "baseline": "middle", "font": "Liberation Sans", "fontSize": 25, "fontWeight": "bold", "color": "#000"},
   "encoding": {"x": {"datum": -0.4982, "type": "quantitative"}, "y": {"datum": 0.4889, "type": "quantitative"}, "text": {"value": "C"}}}
 ]
},
{"width": 10, "height": 1, "data": {"values": [{"a": 0}]}, "mark": {"type": "point", "opacity": 0}, "encoding": {}},
{
 "width": 340, "height": 548.9,
 "layer": [
  {"data": {"values": [{"x1": -0.437, "x2": 1.024, "y1": -0.546, "y2": 0.402}]},
   "mark": {"type": "rect", "fill": "transparent", "stroke": "#333", "strokeWidth": 1.2},
   "encoding": {
    "x": {"field": "x1", "type": "quantitative", "scale": {"domain": [-0.57323, 1.024], "nice": false, "zero": false, "padding": 0},
      "axis": {"values": [-0.4,-0.2,0,0.2,0.4,0.6,0.8,1.0], "format": ".1f", "labelExpr": "replace(datum.label, '−', '-')", "grid": false, "domain": false, "tickSize": 6, "tickColor": "#333", "labelFont": "Liberation Sans", "labelFontSize": 14, "labelColor": "#333", "labelPadding": 2, "title": "PCo1 [55.9%]", "titleFont": "Liberation Sans", "titleFontSize": 15, "titleFontWeight": "normal", "titleColor": "#333", "titleX": 183.3, "titleY": 53}},
    "x2": {"field": "x2"},
    "y": {"field": "y1", "type": "quantitative", "scale": {"domain": [-0.546, 0.7697], "nice": false, "zero": false, "padding": 0},
      "axis": {"offset": -29, "values": [-0.5,-0.4,-0.3,-0.2,-0.1,0,0.1,0.2,0.3], "format": ".1f", "labelExpr": "replace(datum.label, '−', '-')", "grid": false, "domain": false, "tickSize": 6, "tickColor": "#333", "labelFont": "Liberation Sans", "labelFontSize": 14, "labelColor": "#333", "labelPadding": 2, "title": "PCo2 [13.1%]", "titleFont": "Liberation Sans", "titleFontSize": 15, "titleFontWeight": "normal", "titleColor": "#333", "titleX": -63.9, "titleY": 351.2}},
    "y2": {"field": "y2"}}},
  {"data": {"name": "hullD"}, "mark": {"type": "line", "strokeWidth": 1, "fillOpacity": 0.22, "strokeOpacity": 0.7},
   "encoding": {"x": {"field": "x", "type": "quantitative"}, "y": {"field": "y", "type": "quantitative"},
    "order": {"field": "i", "type": "quantitative"},
    "fill": {"field": "g", "type": "nominal", "scale": {"domain": ["Control","Model","QFY"], "range": ["#3b4a9a","#ee1111","#0a8a40"]}},
    "stroke": {"field": "g", "type": "nominal", "scale": {"domain": ["Control","Model","QFY"], "range": ["#3b4a9a","#ee1111","#0a8a40"]},
      "legend": {"orient": "none", "legendX": 366.3, "legendY": 156.7, "title": null, "symbolType": "circle", "symbolSize": 130, "symbolStrokeWidth": 0, "labelFont": "Liberation Sans", "labelFontSize": 14, "labelColor": "#555", "labelOffset": 6.9, "rowPadding": 10, "labelLimit": 36}}}},
  {"data": {"name": "pcoaD"}, "mark": {"type": "circle", "size": 95, "opacity": 1},
   "encoding": {"x": {"field": "x", "type": "quantitative"}, "y": {"field": "y", "type": "quantitative"},
    "fill": {"field": "g", "type": "nominal", "legend": {"orient": "none", "legendX": 366.3, "legendY": 156.7, "title": null, "symbolType": "circle", "symbolSize": 130, "symbolStrokeWidth": 0, "symbolOpacity": 1, "labelFont": "Liberation Sans", "labelFontSize": 14, "labelColor": "#555", "labelOffset": 6.9, "rowPadding": 10, "labelLimit": 36, "encode": {"symbols": {"update": {"fillOpacity": {"value": 1}, "strokeWidth": {"value": 0}}}, "labels": {"update": {"ellipsis": {"value": "\u200b"}}}}}}}},
  {"data": {"values": [{}]}, "mark": {"type": "text", "align": "left", "baseline": "middle", "font": "Liberation Sans", "fontSize": 25, "fontWeight": "bold", "color": "#000"},
   "encoding": {"x": {"datum": -0.8476, "type": "quantitative"}, "y": {"datum": 0.5044, "type": "quantitative"}, "text": {"value": "D"}}}
 ]
},
{"width": 10, "height": 1, "data": {"values": [{"a": 0}]}, "mark": {"type": "point", "opacity": 0}, "encoding": {}},
{
 "width": 492, "height": 652.1,
 "title": {"text": "Hierarchical clustering analysis", "anchor": "middle", "frame": "group", "dx": 65, "dy": 32, "offset": 12, "baseline": "alphabetic", "font": "Liberation Sans Narrow, DejaVu Sans Condensed, Liberation Sans, sans-serif", "fontSize": 16.5, "fontWeight": "normal", "color": "#1a1a1a"},
 "resolve": {"scale": {"x": "independent"}},
 "layer": [
  {"layer": [
    {"data": {"name": "tree"}, "mark": {"type": "rule", "strokeWidth": 1.3},
     "encoding": {
      "x": {"field": "px", "type": "quantitative", "scale": {"domain": [0, 0.605], "range": [0, 219], "nice": false, "zero": false, "padding": 0},
        "axis": {"orient": "bottom", "values": [0, 0.2, 0.4, 0.6], "format": ".1f", "grid": false, "tickSize": 5, "tickColor": "#333", "domainColor": "#333", "labelFont": "Liberation Sans Narrow, DejaVu Sans Condensed, Liberation Sans, sans-serif", "labelFontSize": 10.5, "labelColor": "#333", "labelPadding": 3, "title": null}},
      "y": {"field": "py", "type": "quantitative", "scale": {"domain": [-1.46, 22.47], "reverse": true, "nice": false, "zero": false, "padding": 0}, "axis": null},
      "y2": {"field": "cy"},
      "stroke": {"field": "g", "type": "nominal", "scale": {"domain": ["Control","Model","QFY"], "range": ["#f2735c","#5cc3dc","#1e9e8c"]},
        "legend": {"title": "Groups", "orient": "none", "legendX": 508.9, "legendY": 116.4, "symbolType": "stroke", "symbolSize": 225, "symbolStrokeWidth": 1.5, "titleFont": "Liberation Sans Narrow, DejaVu Sans Condensed, Liberation Sans, sans-serif", "titleFontSize": 14.5, "titleFontWeight": "normal", "titleColor": "#1a1a1a", "titlePadding": 19, "labelFont": "Liberation Sans Narrow, DejaVu Sans Condensed, Liberation Sans, sans-serif", "labelFontSize": 12, "labelColor": "#1a1a1a", "labelOffset": 8, "rowPadding": 12.5}}}},
    {"data": {"name": "tree"}, "mark": {"type": "rule", "strokeWidth": 1.3},
     "encoding": {"x": {"field": "px", "type": "quantitative"}, "x2": {"field": "cx"}, "y": {"field": "cy", "type": "quantitative"},
      "stroke": {"field": "g", "type": "nominal"}}},
    {"data": {"name": "tree"}, "transform": [{"filter": "datum.leaf"}],
     "mark": {"type": "text", "align": "left", "baseline": "middle", "dx": 2, "font": "Liberation Sans Narrow, DejaVu Sans Condensed, Liberation Sans, sans-serif", "fontSize": 9.5, "color": "#333"},
     "encoding": {"x": {"field": "cx", "type": "quantitative"}, "y": {"field": "cy", "type": "quantitative"}, "text": {"field": "c"}}},
    {"data": {"values": [{}]}, "mark": {"type": "rect", "fill": "#7f7f7f", "stroke": "#4d4d4d", "strokeWidth": 1},
     "encoding": {"x": {"datum": 0, "type": "quantitative"}, "x2": {"datum": 0.605}, "y": {"datum": -1.46, "type": "quantitative"}, "y2": {"datum": -0.51}}},
    {"data": {"values": [{}]}, "mark": {"type": "text", "baseline": "middle", "font": "Liberation Sans Narrow, DejaVu Sans Condensed, Liberation Sans, sans-serif", "fontSize": 9.5, "color": "#222"},
     "encoding": {"x": {"datum": 0.3025, "type": "quantitative"}, "y": {"datum": -0.985, "type": "quantitative"}, "text": {"value": "Tree plot"}}},
    {"data": {"values": [{}]}, "mark": {"type": "text", "align": "left", "baseline": "middle", "font": "Liberation Sans", "fontSize": 25, "fontWeight": "bold", "color": "#000"},
     "encoding": {"x": {"datum": -0.105, "type": "quantitative"}, "y": {"datum": -1.756, "type": "quantitative"}, "text": {"value": "F"}}}
  ]},
  {"layer": [
    {"data": {"name": "bars"}, "mark": {"type": "bar", "orient": "horizontal", "size": 22.5, "stroke": "#000", "strokeWidth": 0.7},
     "encoding": {
      "x": {"field": "v", "type": "quantitative", "stack": "zero", "scale": {"domain": [0, 1], "range": [224, 492], "nice": false, "padding": 0},
        "axis": {"orient": "bottom", "values": [0, 0.25, 0.5, 0.75], "format": ".2f", "grid": false, "tickSize": 5, "tickColor": "#333", "domainColor": "#333", "labelFont": "Liberation Sans Narrow, DejaVu Sans Condensed, Liberation Sans, sans-serif", "labelFontSize": 10.5, "labelColor": "#333", "labelPadding": 3, "title": null}},
      "y": {"field": "r", "type": "quantitative"},
      "fill": {"field": "t", "type": "nominal",
        "scale": {"domain": ["Firmicutes","Bacteroidetes","Proteobacteria","Actinobacteria","TM7","Tenericutes","Deferribacteres","Cyanobacteria","OD1","Verrucomicrobia"], "range": ["#3b4b9b","#ee0f10","#0b8c48","#5a1a7a","#0f8080","#b0102a","#6b55a6","#9a0d5a","#7f7f7f","#b03a52"]},
        "legend": {"title": "Taxa", "orient": "none", "legendX": 503.8, "legendY": 265.7, "symbolType": "M -0.63 -1 H 0.63 V 1 H -0.63 Z", "symbolSize": 729, "symbolStrokeColor": "#000", "symbolStrokeWidth": 0.8, "clipHeight": 27.5, "titleFont": "Liberation Sans Narrow, DejaVu Sans Condensed, Liberation Sans, sans-serif", "titleFontSize": 14.5, "titleFontWeight": "normal", "titleColor": "#1a1a1a", "titlePadding": 13, "labelFont": "Liberation Sans Narrow, DejaVu Sans Condensed, Liberation Sans, sans-serif", "labelFontSize": 12, "labelFontStyle": "italic", "labelColor": "#1a1a1a", "labelOffset": 2.1, "rowPadding": 0}},
      "order": {"field": "k", "type": "quantitative", "sort": "descending"}}},
    {"data": {"values": [{}]}, "mark": {"type": "rule", "color": "#333", "strokeWidth": 1},
     "encoding": {"x": {"datum": 0, "type": "quantitative"}, "y": {"datum": 0.28, "type": "quantitative"}, "y2": {"datum": 21.4}}},
    {"data": {"values": [{}]}, "mark": {"type": "rect", "fill": "#7f7f7f", "stroke": "#4d4d4d", "strokeWidth": 1},
     "encoding": {"x": {"datum": 0, "type": "quantitative"}, "x2": {"datum": 1}, "y": {"datum": -1.46, "type": "quantitative"}, "y2": {"datum": -0.51}}},
    {"data": {"values": [{}]}, "mark": {"type": "text", "baseline": "middle", "font": "Liberation Sans Narrow, DejaVu Sans Condensed, Liberation Sans, sans-serif", "fontSize": 9.5, "color": "#222"},
     "encoding": {"x": {"datum": 0.5, "type": "quantitative"}, "y": {"datum": -0.985, "type": "quantitative"}, "text": {"value": "Bar plot"}}}
  ]}
 ]
}
]
}
